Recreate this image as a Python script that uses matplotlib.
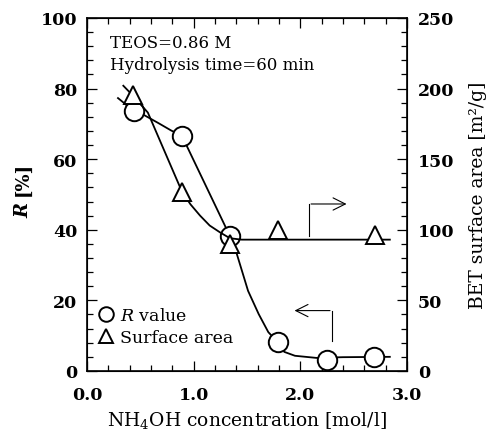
import matplotlib.pyplot as plt
from matplotlib.ticker import MultipleLocator

plt.rcParams['font.family'] = 'DejaVu Serif'
plt.rcParams['mathtext.fontset'] = 'dejavuserif'

# R value points (left axis)
conc = [0.44, 0.89, 1.34, 1.79, 2.25, 2.69]
r_value = [73.6, 66.6, 38.2, 8.1, 3.2, 4.0]

# BET surface area points (right axis)
area_conc = [0.43, 0.89, 1.34, 1.79, 2.70]
surface_area = [195.5, 126.5, 90.0, 99.7, 96.0]

# hand drawn curves
r_curve_x = [0.29, 0.44, 0.54, 0.67, 0.79, 0.89, 1.34, 1.40, 1.51, 1.61, 1.70,
             1.79, 1.85, 1.95, 2.15, 2.40, 2.84]
r_curve_y = [77.3, 73.6, 72.4, 70.2, 68.1, 66.6, 38.2, 33.6, 22.7, 16.1, 11.0,
             8.1, 5.4, 4.3, 3.7, 3.9, 4.0]
area_curve_x = [0.34, 0.43, 0.57, 0.71, 0.85, 0.89, 0.97, 1.06, 1.15, 1.25,
                1.34, 1.45, 2.84]
area_curve_y = [202, 195, 183, 158.5, 134, 127, 118, 110, 103, 98, 94, 93, 93]

fig = plt.figure(figsize=(4.92, 4.31), dpi=100)
ax = fig.add_axes([0.177, 0.137, 0.65, 0.819])
ax2 = ax.twinx()

ax.plot(r_curve_x, r_curve_y, color='black', lw=1.3, zorder=2)
ax2.plot(area_curve_x, area_curve_y, color='black', lw=1.3, zorder=2)

circ, = ax.plot(conc, r_value, 'o', ms=14, mfc='white', mec='black', mew=1.4,
                zorder=4, label=r'$\it{R}$ value')
tri, = ax2.plot(area_conc, surface_area, '^', ms=13, mfc='white', mec='black',
                mew=1.4, zorder=4, label='Surface area')

# arrows pointing at the right / left axes
ax.plot([2.08, 2.08], [38.3, 47.3], color='black', lw=0.8)
ax.annotate('', xy=(2.46, 47.3), xytext=(2.075, 47.3),
            arrowprops=dict(arrowstyle='->', lw=0.8, mutation_scale=22))
ax.plot([2.30, 2.30], [8.6, 17.1], color='black', lw=0.8)
ax.annotate('', xy=(1.92, 17.1), xytext=(2.305, 17.1),
            arrowprops=dict(arrowstyle='->', lw=0.8, mutation_scale=22))

ax.text(0.215, 93.0, 'TEOS=0.86 M', fontsize=12, va='center')
ax.text(0.215, 86.8, 'Hydrolysis time=60 min', fontsize=12, va='center')

ax.set_xlim(0, 3)
ax.set_ylim(0, 100)
ax2.set_ylim(0, 250)

ax.xaxis.set_major_locator(MultipleLocator(1.0))
ax.xaxis.set_minor_locator(MultipleLocator(0.2))
ax.yaxis.set_major_locator(MultipleLocator(20))
ax.yaxis.set_minor_locator(MultipleLocator(4))
ax2.yaxis.set_major_locator(MultipleLocator(50))
ax2.yaxis.set_minor_locator(MultipleLocator(10))
ax.set_xticks([0, 1, 2, 3], ['0.0', '1.0', '2.0', '3.0'])

ax.tick_params(which='both', direction='in', top=True, right=False,
               labelsize=12.5, width=0.9)
ax.tick_params(which='major', length=7)
ax.tick_params(which='minor', length=4)
ax.tick_params(axis='x', which='major', pad=11)
ax.tick_params(axis='y', which='major', pad=7)
ax2.tick_params(which='both', direction='in', labelsize=12.5, width=0.9)
ax2.tick_params(which='major', length=7, pad=8)
ax2.tick_params(which='minor', length=4)
for lbl in ax.get_xticklabels() + ax.get_yticklabels() + ax2.get_yticklabels():
    lbl.set_fontweight('bold')

ax.set_xlabel(r'NH$_4$OH concentration [mol/l]', fontsize=13.5, labelpad=4)
ax2.set_ylabel('BET surface area [m²/g]', fontsize=13.5, labelpad=10)
fig.text(0.047, 0.512, 'R', rotation=90, fontsize=13, fontweight='bold',
         fontstyle='italic', ha='center', va='center')
fig.text(0.047, 0.585, '[%]', rotation=90, fontsize=13, fontweight='bold',
         ha='center', va='center')

ax.legend(handles=[circ, tri], loc='lower left', bbox_to_anchor=(0.0, 0.035),
          frameon=False, fontsize=12.5, markerscale=0.75, handlelength=0.8,
          handletextpad=0.4, borderaxespad=0.3, labelspacing=0.3)

for s in ax.spines.values():
    s.set_linewidth(1.2)

fig.savefig('out.png', dpi=100)
